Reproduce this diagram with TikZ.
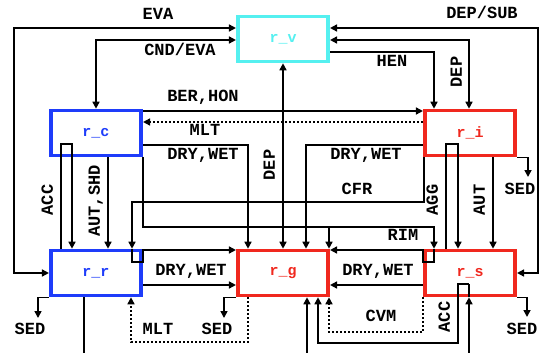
\documentclass[tikz,border=0pt]{standalone}
\usepackage{fontspec}
\newfontfamily\diagmono{Liberation Mono}
\usetikzlibrary{arrows.meta}
\definecolor{boxcyan}{RGB}{85,240,240}
\definecolor{boxblue}{RGB}{30,60,250}
\definecolor{boxred}{RGB}{240,40,30}

\begin{document}
\begin{tikzpicture}[x=1pt, y=-1pt, >={Triangle[length=7pt,width=7pt]},
  box/.style={draw, line width=3.6pt, minimum width=90.5pt, minimum height=45pt, inner sep=0pt, font=\diagmono\bfseries\fontsize{15}{15}\selectfont},
  lbl/.style={inner sep=0pt, text height=9.5pt, text depth=0pt, font=\diagmono\bfseries\fontsize{17}{17}\selectfont},
  wire/.style={line width=1.6pt},
  dotwire/.style={wire, dash pattern=on 2pt off 2pt}]
\useasboundingbox (0,0) rectangle (541,353);

% states
\node[box, draw=boxcyan, text=boxcyan] (r_v) at (283,39) {r\_v};
\node[box, draw=boxblue, text=boxblue] (r_c) at (96,133) {r\_c};
\node[box, draw=boxred, text=boxred] (r_i) at (470,133) {r\_i};
\node[box, draw=boxblue, text=boxblue] (r_r) at (96,273) {r\_r};
\node[box, draw=boxred, text=boxred] (r_g) at (283,273) {r\_g};
\node[box, draw=boxred, text=boxred] (r_s) at (470,273) {r\_s};

% top part
\draw[wire, <->] (r_r.west) -- (14,273) |- (r_v.west |- 0,28);
\draw[wire, <->] (r_v.west |- 0,40) -| (r_c.north);
\draw[wire, <->] (r_s.east) -- (538,273) |- (r_v.east |- 0,28);
\draw[wire, <->] (r_v.east |- 0,40) -| (r_i.north -| 469,0);
\draw[wire, ->] (r_v.east |- 0,52) -| (r_i.north -| 434,0);
\draw[wire, <->] (r_g.north) -- (r_v.south);

% between r_c and r_i
\draw[wire, ->] (r_c.east |- 0,111) -- (r_i.west |- 0,111);
\draw[dotwire, ->] (r_i.west |- 0,122) -- (r_c.east |- 0,122);
\draw[wire, ->] (r_c.east |- 0,145) -| (r_g.north -| 248,0);
\draw[wire, ->] (r_i.west |- 0,145) -| (r_g.north -| 306,0);
\draw[wire, ->] (r_i.south -| 424,0) |- (132,202) -- (r_r.north -| 132,0);
\draw[wire, ->] (r_c.south -| 143,0) |- (434,227) -- (r_s.north -| 434,0);
\draw[wire, ->] (329,227) -- (r_g.north -| 329,0);

% down to r_r and r_s
\draw[wire, ->] (r_r.north -| 61,0) -- (61,144) -- (72,144) -- (r_r.north -| 72,0);
\draw[wire, ->] (r_c.south -| 108,0) -- (r_r.north -| 108,0);
\draw[wire, ->] (r_s.north -| 446,0) -- (446,144) -- (458,144) -- (r_s.north -| 458,0);
\draw[wire, ->] (r_i.south -| 493,0) -- (r_s.north -| 493,0);

% into r_g
\draw[wire, ->] (r_r.north -| 132,0) -- (132,262) -- (143,262) -- (143,250) -- (r_g.west |- 0,250);
\draw[wire, ->] (r_s.north -| 434,0) -- (434,262) -- (423,262) -- (423,250) -- (r_g.east |- 0,250);
\draw[wire, ->] (r_r.east |- 0,285) -- (r_g.west |- 0,285);
\draw[wire, ->] (r_s.west |- 0,285) -- (r_g.east |- 0,285);

% bottom part
\draw[dotwire, ->] (r_g.south -| 248,0) |- (131,342) -- (r_r.south -| 131,0);
\draw[dotwire, ->] (r_s.south -| 423,0) |- (329,332) -- (r_g.south -| 329,0);
\draw[wire, ->] (469,284) -- (458,284) -- (458,343) -- (318,343) -- (r_g.south -| 318,0);
\draw[wire, ->] (469,353) -- (r_s.south -| 469,0);
\draw[wire] (r_s.south -| 469,0) -- (469,284);
\draw[wire, ->] (307,353) -- (r_g.south -| 307,0);
\draw[wire] (r_r.south -| 84,0) -- (84,353);

% sediment arrows
\draw[wire, ->] (r_i.south east) -| (528,177);
\draw[wire, ->] (r_s.south east) -| (527,317);
\draw[wire, ->] (r_r.south west) -| (38,318);
\draw[wire, ->] (r_g.south west) -| (224,318);

% labels
\node[lbl] (l_eva) at (158,15) {EVA};
\node[lbl] (l_cnd) at (180,51) {CND/EVA};
\node[lbl] (l_sub) at (482,14) {DEP/SUB};
\node[lbl] (l_hen) at (392,62) {HEN};
\node[lbl, rotate=90] (l_depi) at (457,72) {DEP};
\node[lbl] (l_ber) at (203,97) {BER,HON};
\node[lbl] (l_mltc) at (205,131) {MLT};
\node[lbl] (l_dryc) at (203,155) {DRY,WET};
\node[lbl, rotate=90] (l_depg) at (270,165) {DEP};
\node[lbl] (l_dryi) at (366,155) {DRY,WET};
\node[lbl, rotate=90] (l_accr) at (48,200) {ACC};
\node[lbl, rotate=90] (l_aut) at (95,201) {AUT,SHD};
\node[lbl] (l_cfr) at (357,190) {CFR};
\node[lbl, rotate=90] (l_agg) at (433,200) {AGG};
\node[lbl, rotate=90] (l_auts) at (480,200) {AUT};
\node[lbl] (l_sedi) at (520,190) {SED};
\node[lbl] (l_rim) at (403,236) {RIM};
\node[lbl] (l_dryr) at (191,271) {DRY,WET};
\node[lbl] (l_drys) at (378,271) {DRY,WET};
\node[lbl] (l_sedr) at (30,330) {SED};
\node[lbl] (l_mltr) at (158,330) {MLT};
\node[lbl] (l_sedg) at (217,330) {SED};
\node[lbl] (l_cvm) at (381,317) {CVM};
\node[lbl, rotate=90] (l_accs) at (445,317) {ACC};
\node[lbl] (l_seds) at (522,330) {SED};
\end{tikzpicture}
\end{document}
